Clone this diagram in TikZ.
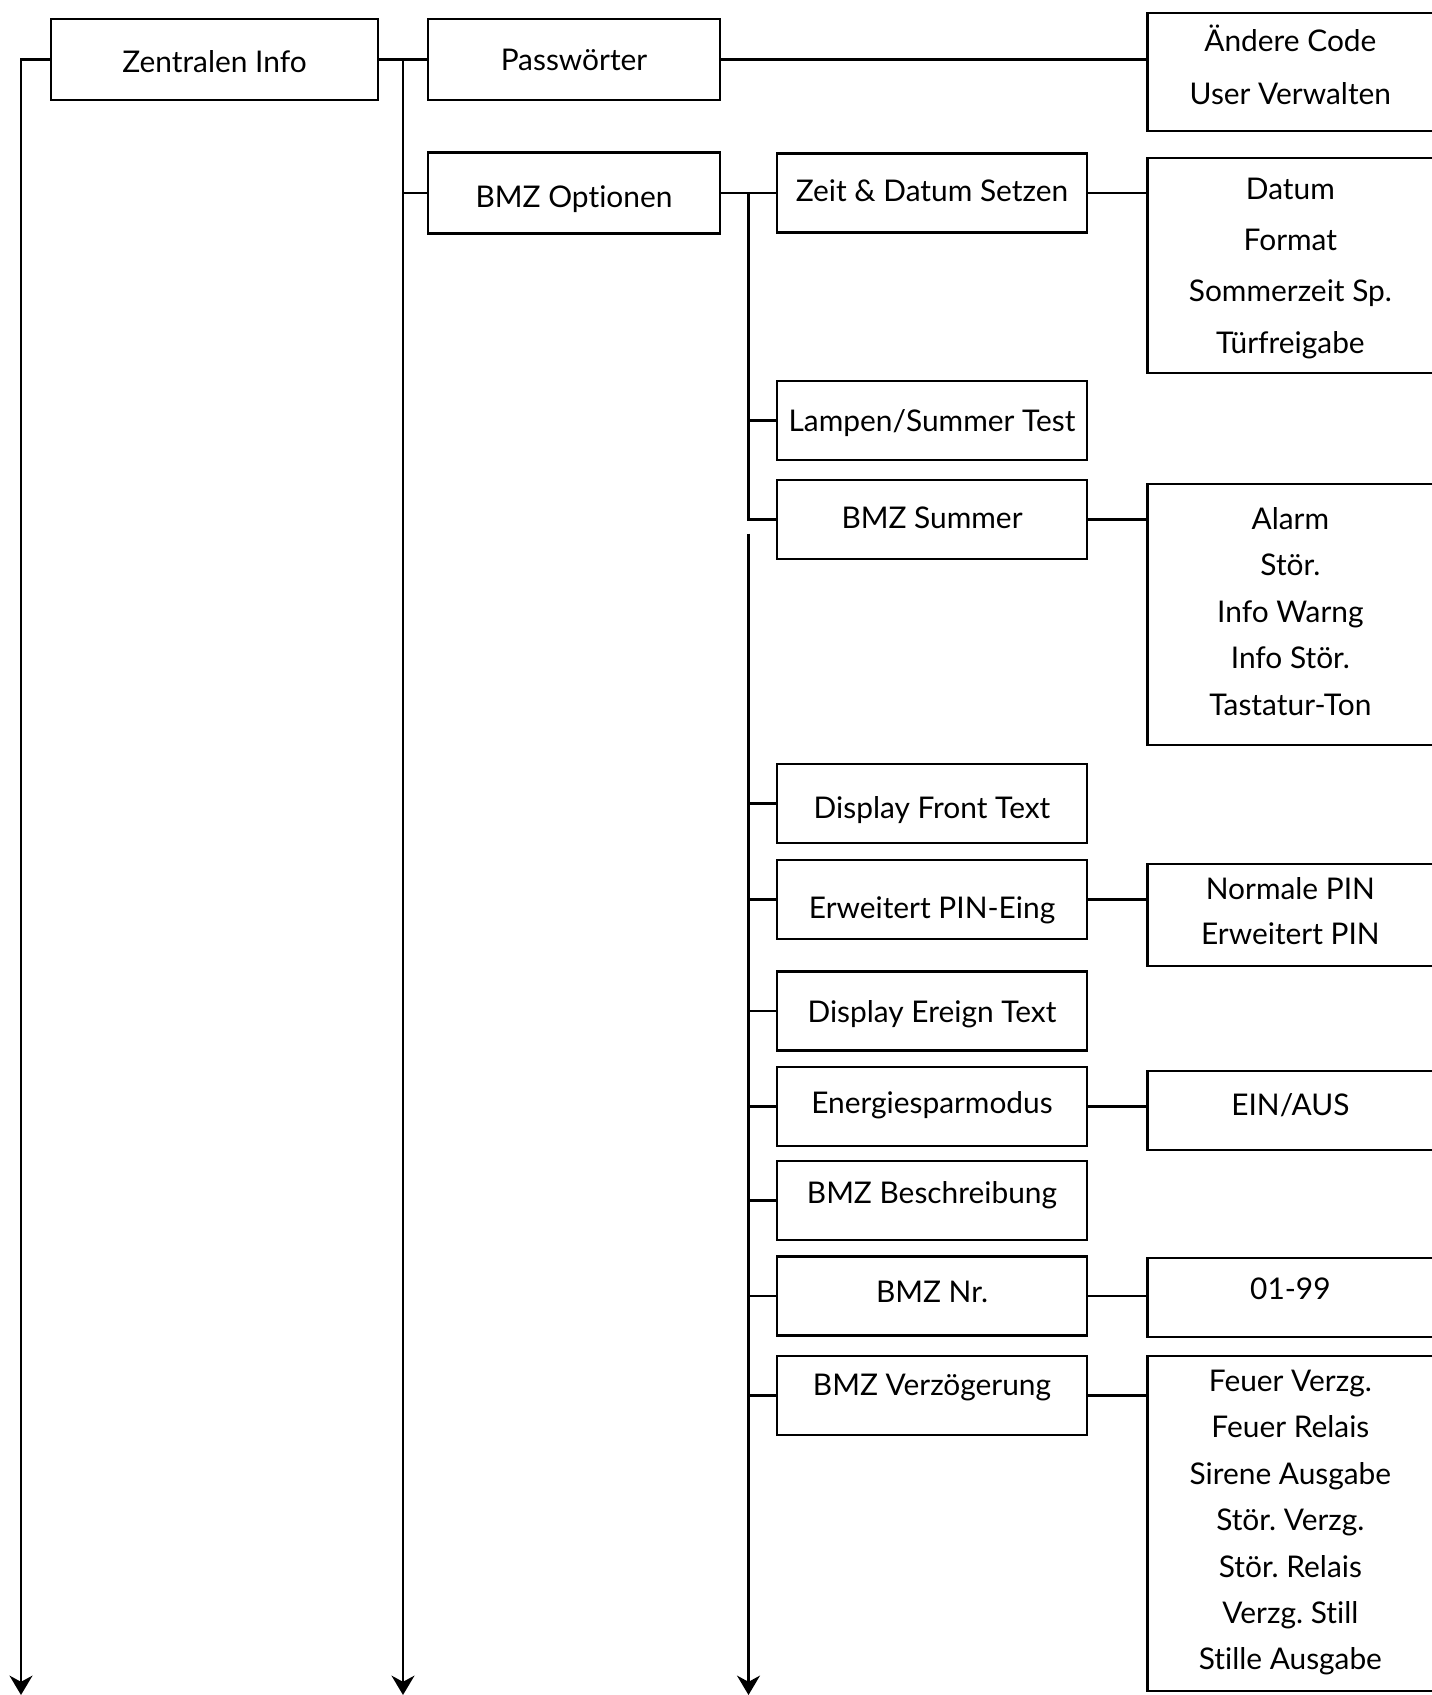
\documentclass[tikz,border=0pt]{standalone}
\usepackage{fontspec}
\setmainfont{Lato}[Ligatures=NoCommon]
\frenchspacing
\usetikzlibrary{
    arrows.meta,
    positioning,
    calc
}
\tikzset{
  box/.style   = {draw, line width=1.6pt, inner sep=2pt, align=center,
                  text depth=0pt, font=\fontsize{17}{20}\selectfont},
  topbox/.style  = {box, minimum width=6.54cm, minimum height=1.62cm},
  subbox/.style  = {box, minimum width=5.84cm, minimum height=1.62cm},
  item/.style    = {box, minimum width=6.2cm, minimum height=1.58cm},
  list/.style    = {box, anchor=west, minimum width=5.72cm,
                    font=\fontsize{17}{#1}\selectfont},
  link/.style    = {line width=1.6pt},
  trunk/.style   = {link, -{Stealth[length=11pt, width=13pt, inset=3.5pt]}}
}

\begin{document}
\begin{tikzpicture}[x=0.02cm, y=-0.02cm]
      \fill[white] (0,0) rectangle (1432,1695);
      \useasboundingbox (0,0) rectangle (1432,1695);
      \clip (0,0) rectangle (1432,1695);
      % left column
      \node[topbox, text height=15pt] (zi) at (214.5,59.5) {Zentralen Info};
      \node[subbox, text height=12.5pt] (pw) at (574,59.5) {Passwörter};
      \node[subbox, text height=16.1pt] (opt) at (574,193) {BMZ Optionen};
      % BMZ Optionen entries
      \node[item, text height=10pt] (zeit) at (932,193) {Zeit \& Datum Setzen};
      \node[item, text height=13pt] (lamp) at (932,420.5) {Lampen/Summer Test};
      \node[item, text height=9.8pt] (summ) at (932,519.5) {BMZ Summer};
      \node[item, text height=17.6pt] (front) at (932,803.5) {Display Front Text};
      \node[item, text height=21.3pt] (pin) at (932,899.5) {Erweitert PIN-Eing};
      \node[item, text height=12.7pt] (ereig) at (932,1011) {Display Ereign Text};
      \node[item, text height=7.8pt] (energ) at (932,1106.5) {Energiesparmodus};
      \node[item, text height=2.9pt] (beschr) at (932,1200.5) {BMZ Beschreibung};
      \node[item, text height=7.3pt] (nr) at (932,1296) {BMZ Nr.};
      \node[item, text height=0.4pt] (verz) at (932,1395.5) {BMZ Verzögerung};
      % settings on the right
      \node[list=30.6pt, minimum height=2.36cm, text height=37.5pt] (code)
            at (1146,72) {Ändere Code\\User Verwalten};
      \node[list=29.2pt, minimum height=4.3cm, text height=99.7pt] (dat)
            at (1146,265.5) {Datum\\Format\\Sommerzeit Sp.\\Türfreigabe};
      \node[list=26.4pt, minimum height=5.22cm, text height=114.4pt] (alarm)
            at (1146,614.5) {Alarm\\Stör.\\Info Warng\\Info Stör.\\Tastatur-Ton};
      \node[list=25.5pt, minimum height=2.04cm, text height=33.1pt] (norm)
            at (1146,915) {Normale PIN\\Erweitert PIN};
      \node[list=20pt, minimum height=1.58cm, text height=5.7pt] (ein)
            at (1146,1110.5) {EIN/AUS};
      \node[list=20pt, minimum height=1.58cm, text height=2.4pt] (num)
            at (1146,1297.5) {01-99};
      \node[list=26.4pt, minimum height=6.7cm, text height=166.6pt] (feuer)
            at (1146,1523.5)
            {Feuer Verzg.\\Feuer Relais\\Sirene Ausgabe\\Stör. Verzg.\\Stör. Relais\\Verzg. Still\\Stille Ausgabe};

      \coordinate (bot) at (0,1695);
      \coordinate (ta) at (21,0);
      \coordinate (tb) at ($(zi.east)!.5!(pw.west)$);
      \coordinate (tc) at ($(opt.east)!.5!(zeit.west)$);
      \coordinate (tc low) at ($(tc |- summ)+(0,14)$);

      % trunks
      \draw[trunk] (zi.west) -| (ta |- bot);
      \draw[trunk] (tb) -- (tb |- bot);
      \draw[link] (tc) |- (summ.west);
      \draw[trunk] (tc low) -- (tc low |- bot);

      % branches
      \draw[link] (zi) -- (pw);
      \draw[link] (tb |- opt) -- (opt);
      \draw[link] (opt) -- (zeit);
      \draw[link] (tc |- lamp) -- (lamp);
      \foreach \n in {front,pin,ereig,energ,beschr,nr,verz}
        \draw[link] (tc |- \n) -- (\n);

      % to the settings
      \draw[link] (pw.east) -- (pw.east -| code.west);
      \draw[link] (zeit.east) -- (zeit.east -| dat.west);
      \draw[link] (summ.east) -- (summ.east -| alarm.west);
      \draw[link] (pin.east) -- (pin.east -| norm.west);
      \draw[link] (energ.east) -- (energ.east -| ein.west);
      \draw[link] (nr.east) -- (nr.east -| num.west);
      \draw[link] (verz.east) -- (verz.east -| feuer.west);
    \end{tikzpicture}
\end{document}
